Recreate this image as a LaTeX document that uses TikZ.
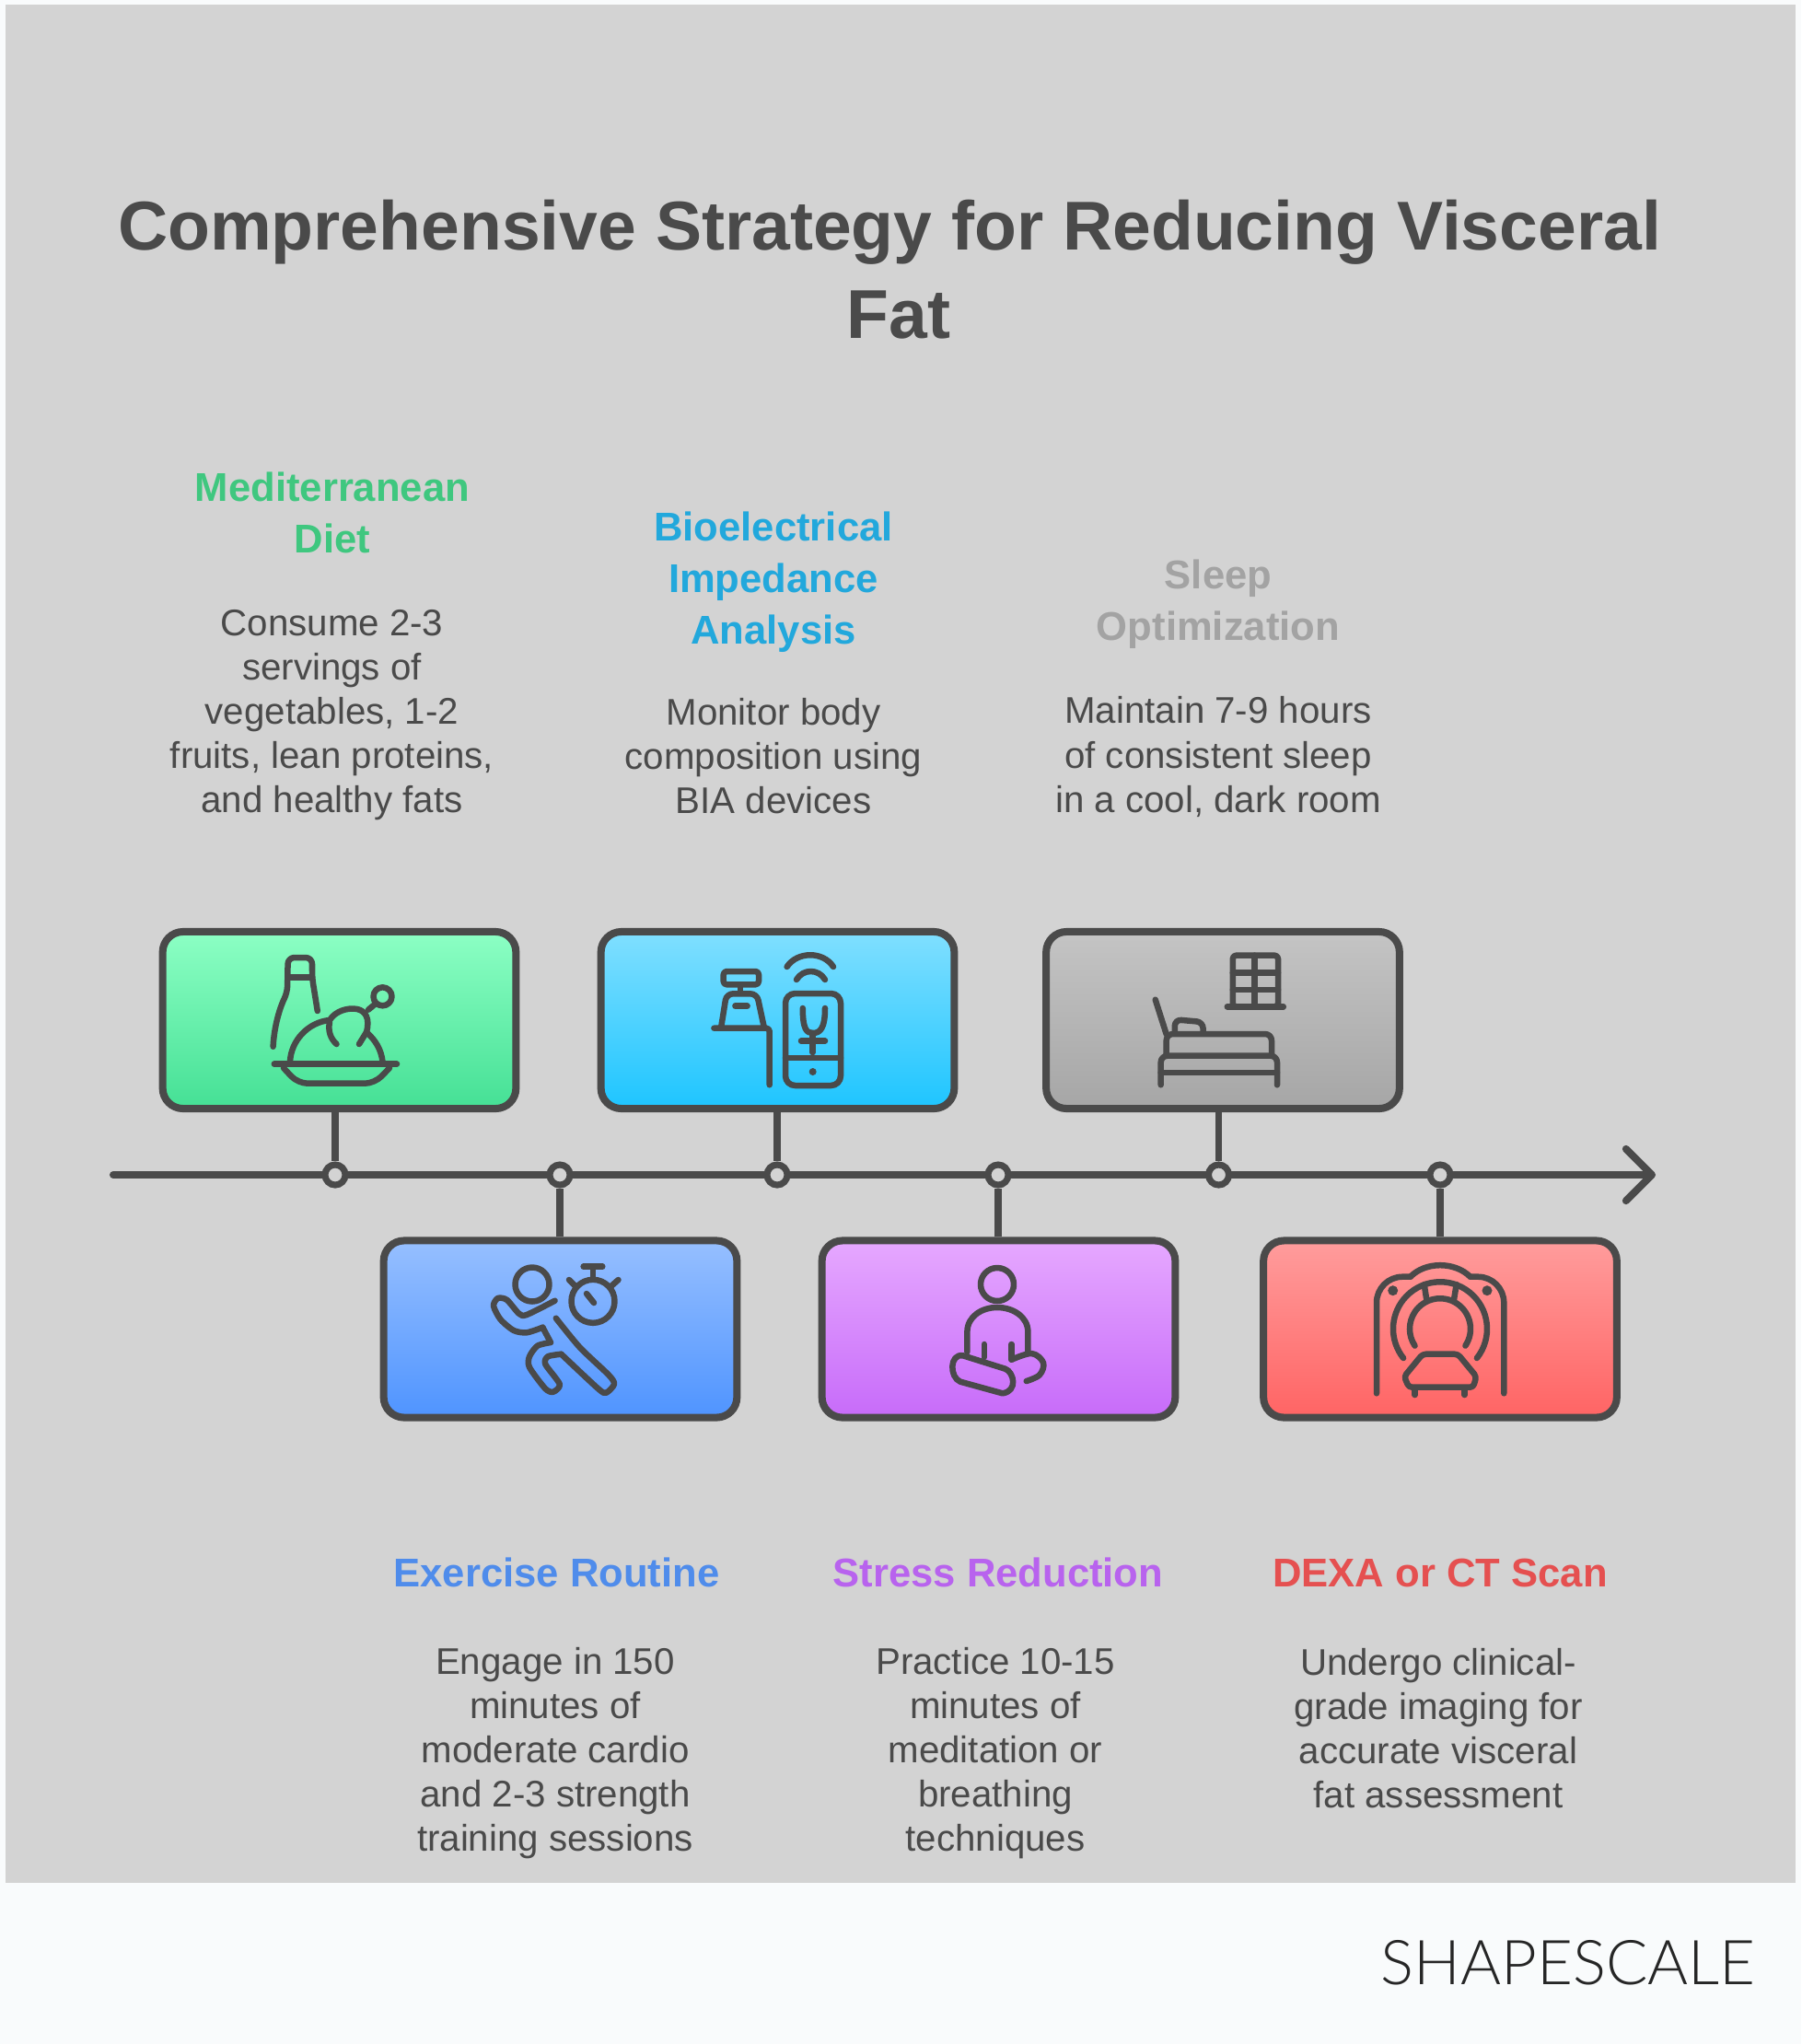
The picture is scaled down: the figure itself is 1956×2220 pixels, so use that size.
\documentclass[tikz,border=0pt]{standalone}
\usepackage{fontspec}
\setmainfont{Liberation Sans}
\newfontfamily\logofont{Lato Light}
\usetikzlibrary{arrows.meta}
\definecolor{pagewhite}{HTML}{F9FBFC}
\definecolor{panelgray}{HTML}{D3D3D3}
\definecolor{inkgray}{HTML}{4A4A4A}
\definecolor{dietgreen}{HTML}{3FC77F}
\definecolor{biablue}{HTML}{22A8DC}
\definecolor{sleepgray}{HTML}{A3A3A3}
\definecolor{exerciseblue}{HTML}{4F8CEB}
\definecolor{stresspurple}{HTML}{B863EE}
\definecolor{dexared}{HTML}{E55050}
\definecolor{diettop}{HTML}{8CFFC4}
\definecolor{dietbottom}{HTML}{45E095}
\definecolor{biatop}{HTML}{80DFFF}
\definecolor{biabottom}{HTML}{1EC5FF}
\definecolor{sleeptop}{HTML}{C4C4C4}
\definecolor{sleepbottom}{HTML}{A6A6A6}
\definecolor{exercisetop}{HTML}{96BFFF}
\definecolor{exercisebottom}{HTML}{4F94FF}
\definecolor{stresstop}{HTML}{E6A8FF}
\definecolor{stressbottom}{HTML}{C76BF9}
\definecolor{dexatop}{HTML}{FF9C9C}
\definecolor{dexabottom}{HTML}{FF6464}
\def\titlefont{\fontsize{21.35}{27.3}\selectfont\bfseries}
\def\headfont{\fontsize{12.4}{15.93}\selectfont\bfseries}
\def\bodyfont{\fontsize{11.45}{13.66}\selectfont}
\tikzset{
	card/.style={draw=inkgray, line width=2.28pt, rounded corners=6.3pt, minimum width=3.835cm, minimum height=1.92cm, inner sep=0pt},
	dot/.style={circle, draw=inkgray, fill=panelgray, line width=2pt, minimum size=6.26pt, inner sep=0pt},
	stem/.style={draw=inkgray, line width=2pt},
	icon/.style={draw=inkgray, line width=1.85pt, line cap=round, line join=round},
	head/.style={font=\headfont, align=center},
	body/.style={font=\bodyfont, text=inkgray, align=center}
}
\begin{document}
\begin{tikzpicture}[x=0.01cm, y=-0.01cm]
	%%%%% START %%%%%
	\useasboundingbox (0, 0) rectangle (1956, 2220);
	\fill[pagewhite] (0, 0) rectangle (1956, 2220);
	\fill[panelgray] (6, 5) rectangle (1950, 2045);

	\node[font=\titlefont, text=inkgray, align=center] (title) at (966, 292.5) {Comprehensive Strategy for Reducing Visceral\\\hspace*{0.2cm}Fat};

	\coordinate (axisstart) at (123, 1276);
	\coordinate (axisend) at (1798, 1276);
	\draw[draw=inkgray, line width=2.28pt, line cap=round, -{Straight Barb[length=8pt, width=16pt, round]}] (axisstart) -- (axisend);

	\node[card, top color=diettop, bottom color=dietbottom] (dietcard) at (368.5, 1108) {};
	\node[card, top color=biatop, bottom color=biabottom] (biacard) at (844.5, 1108) {};
	\node[card, top color=sleeptop, bottom color=sleepbottom] (sleepcard) at (1328, 1108) {};
	\node[card, top color=exercisetop, bottom color=exercisebottom] (exercisecard) at (608.5, 1443.5) {};
	\node[card, top color=stresstop, bottom color=stressbottom] (stresscard) at (1084.5, 1443.5) {};
	\node[card, top color=dexatop, bottom color=dexabottom] (dexacard) at (1564, 1443.5) {};

	\node[dot] (dietdot) at (364, 1276) {};
	\node[dot] (exercisedot) at (608, 1276) {};
	\node[dot] (biadot) at (844, 1276) {};
	\node[dot] (stressdot) at (1084, 1276) {};
	\node[dot] (sleepdot) at (1323.5, 1276) {};
	\node[dot] (dexadot) at (1564, 1276) {};

	\draw[stem] (dietdot |- dietcard.south) -- (dietdot);
	\draw[stem] (biadot |- biacard.south) -- (biadot);
	\draw[stem] (sleepdot |- sleepcard.south) -- (sleepdot);
	\draw[stem] (exercisedot |- exercisecard.north) -- (exercisedot);
	\draw[stem] (stressdot |- stresscard.north) -- (stressdot);
	\draw[stem] (dexadot |- dexacard.north) -- (dexadot);

	% bottle and roast
	\draw[icon, rounded corners=2pt] (296.6, 1136.7) .. controls (298, 1110) and (306, 1090) .. (312, 1078) -- (312.7, 1040) -- (339, 1040) -- (339, 1061.7) -- (344.8, 1098);
	\draw[icon] (312.7, 1061.7) -- (339, 1061.7);
	\draw[icon] (297.8, 1155.7) -- (431, 1155.7);
	\draw[icon, rounded corners=3pt] (308, 1160) -- (323.6, 1176.7) -- (406.8, 1176.7) -- (423, 1160);
	\draw[icon] (315, 1153) .. controls (316, 1130) and (335, 1110) .. (358, 1108) .. controls (364, 1098) and (378, 1094) .. (388, 1096) .. controls (397, 1098) and (402, 1106) .. (398, 1121) .. controls (408, 1130) and (414, 1140) .. (415.5, 1153);
	\draw[icon] (358, 1110) .. controls (356, 1120) and (359, 1128) .. (365.5, 1134);
	\draw[icon] (398, 1121) -- (390, 1134);
	\draw[icon] (400, 1096.7) -- (408, 1090);
	\draw[icon] (415.5, 1082.3) circle (10);

	% scale and phone
	\draw[icon] (854.6, 1050) .. controls (866, 1033) and (894, 1033) .. (905, 1050);
	\draw[icon] (865, 1064) .. controls (872, 1052) and (889, 1052) .. (896, 1064);
	\draw[icon, rounded corners=3pt] (853, 1079) rectangle (913, 1179);
	\draw[icon] (853, 1149) -- (913, 1149);
	\fill[inkgray] (882.7, 1164) circle (4);
	\draw[icon] (871.8, 1095) .. controls (871.8, 1118) and (876, 1122) .. (882.7, 1122) .. controls (890, 1122) and (896, 1118) .. (896, 1095);
	\draw[icon] (882.7, 1122) -- (882.7, 1143);
	\draw[icon] (870, 1130.7) -- (896, 1130.7);
	\draw[icon, rounded corners=1pt] (785.7, 1055) rectangle (824, 1069.3);
	\draw[icon] (804, 1069.3) -- (804, 1078);
	\draw[icon, rounded corners=2pt] (783, 1116.7) -- (789, 1079.3) -- (822, 1079.3) -- (830, 1116.7);
	\draw[icon] (798.4, 1092.7) -- (811.6, 1092.7);
	\draw[icon, rounded corners=1pt] (775.4, 1116.7) -- (835.7, 1116.7) -- (835.7, 1178.3);

	% window and bed
	\draw[icon, rounded corners=1pt] (1338.8, 1037.7) rectangle (1388, 1093.3);
	\draw[icon] (1362.6, 1037.7) -- (1362.6, 1093.3);
	\draw[icon] (1338.8, 1056.7) -- (1388, 1056.7);
	\draw[icon] (1338.8, 1075) -- (1388, 1075);
	\draw[icon] (1332.8, 1093.3) -- (1393.8, 1093.3);
	\draw[icon] (1254.7, 1085.7) -- (1266.7, 1123.3);
	\draw[icon, rounded corners=2pt] (1266.7, 1146.7) -- (1266.7, 1123) -- (1381, 1123) -- (1381, 1146.7);
	\draw[icon, rounded corners=2pt] (1260.7, 1178.3) -- (1260.7, 1146.7) -- (1387, 1146.7) -- (1387, 1178.3);
	\draw[icon] (1260.7, 1165) -- (1387, 1165);
	\draw[icon, rounded corners=2pt] (1275.8, 1120) -- (1275.8, 1107.3) -- (1306.6, 1110) -- (1306.6, 1120);

	% runner and stopwatch
	\draw[icon] (578, 1395) circle (18.5);
	\draw[icon] (644, 1413.3) circle (23.5);
	\draw[icon] (637, 1405) -- (645, 1415);
	\draw[icon] (644, 1378) -- (644, 1387);
	\draw[icon] (633.6, 1375.7) -- (654.3, 1375.7);
	\draw[icon] (618, 1390) -- (624, 1396);
	\draw[icon] (671.5, 1390) -- (664, 1396.7);
	\draw[icon] plot[smooth, tension=0.45] coordinates {(602.6, 1412.7) (572, 1428) (563.6, 1426.7) (550.4, 1411.7) (540.6, 1410) (536, 1418.3) (543.5, 1433) (557.9, 1445) (572, 1447.3) (589.4, 1441.7)};
	\draw[icon] (589.4, 1441.7) -- (598, 1458);
	\draw[icon] plot[smooth, tension=0.45] coordinates {(598, 1458) (583.7, 1461.7) (575, 1473.3) (575, 1485) (592.3, 1508.3) (600.9, 1511.7) (607.8, 1503.3) (592.3, 1481.7) (595, 1473.3) (609.5, 1470.7)};
	\draw[icon] plot[smooth, tension=0.45] coordinates {(609.5, 1470.7) (649.7, 1508.3) (658.3, 1512.7) (667, 1503.3) (661, 1493.3) (629.6, 1463.3) (603.8, 1431.7)};

	% seated figure
	\draw[icon] (1083, 1395) circle (18);
	\draw[icon] (1050.4, 1468.3) -- (1050.4, 1446.7) .. controls (1050.4, 1430) and (1066, 1420) .. (1083, 1420) .. controls (1100, 1420) and (1116.4, 1430) .. (1116.4, 1446.7) -- (1116.4, 1468.3);
	\draw[icon] (1068.8, 1460) -- (1068.8, 1474);
	\draw[icon] (1098.6, 1460) -- (1098.6, 1476.7);
	\draw[icon] (1045.8, 1472.3) -- (1091.7, 1486.7) .. controls (1101, 1490) and (1106, 1511) .. (1088.7, 1513.3) -- (1043, 1500.7) .. controls (1031, 1496) and (1031, 1470) .. cycle;
	\draw[icon] plot[smooth, tension=0.6] coordinates {(1098.6, 1476.7) (1120.4, 1470) (1133, 1480) (1129, 1493.3) (1114.7, 1500)};

	% scanner
	\draw[icon, rounded corners=8pt] (1495, 1513.3) -- (1495, 1386.7) -- (1531.7, 1386.7);
	\draw[icon] (1531.7, 1386.7) .. controls (1548, 1370) and (1580, 1370) .. (1596.7, 1386.7);
	\draw[icon, rounded corners=8pt] (1596.7, 1386.7) -- (1633.3, 1386.7) -- (1633.3, 1513.3);
	\fill[inkgray] (1512.7, 1401.7) circle (5.5);
	\fill[inkgray] (1615, 1401.7) circle (5.5);
	\draw[icon] (1603.9, 1475) arc (38.5:-218.5:51);
	\draw[icon] (1591.4, 1461.6) arc (33.8:-213.8:33);
	\draw[icon] (1546.7, 1395) -- (1549.3, 1411.7);
	\draw[icon] (1581.7, 1395) -- (1579, 1411.7);
	\draw[icon, rounded corners=1pt] (1545, 1470.7) -- (1583.3, 1470.7) -- (1603.3, 1495) -- (1600, 1506.7) -- (1530, 1506.7) -- (1525, 1495) -- cycle;
	\draw[icon] (1536.7, 1510) -- (1536.7, 1515);
	\draw[icon] (1590.7, 1510) -- (1590.7, 1515);

	\node[head, text=dietgreen] (diethead) at (361, 557) {Mediterranean\\Diet};
	\node[body] (dietbody) at (360.5, 777) {Consume 2-3\\servings of\\vegetables, 1-2\\fruits, lean proteins,\\and healthy fats};
	\node[head, text=biablue] (biahead) at (840, 632) {Bioelectrical\\Impedance\\Analysis};
	\node[body] (biabody) at (840, 821) {Monitor body\\composition using\\BIA devices};
	\node[head, text=sleepgray] (sleephead) at (1323, 656) {Sleep\\Optimization};
	\node[body] (sleepbody) at (1323, 822) {Maintain 7-9 hours\\of consistent sleep\\in a cool, dark room};
	\node[head, text=exerciseblue] (exercisehead) at (604.5, 1708) {Exercise Routine};
	\node[body] (exercisebody) at (603, 1904) {Engage in 150\\minutes of\\moderate cardio\\and 2-3 strength\\training sessions};
	\node[head, text=stresspurple] (stresshead) at (1084, 1708) {Stress Reduction};
	\node[body] (stressbody) at (1081, 1904) {Practice 10-15\\minutes of\\meditation or\\breathing\\techniques};
	\node[head, text=dexared] (dexahead) at (1564, 1708.5) {DEXA or CT Scan};
	\node[body] (dexabody) at (1562, 1876.7) {Undergo clinical-\\grade imaging for\\accurate visceral\\fat assessment};

	\node[text=black!85] (logo) at (1703, 2132) {\logofont\fontsize{19.1}{22}\selectfont SHAPESCALE};
	%%%%% END %%%%%
\end{tikzpicture}
\end{document}
